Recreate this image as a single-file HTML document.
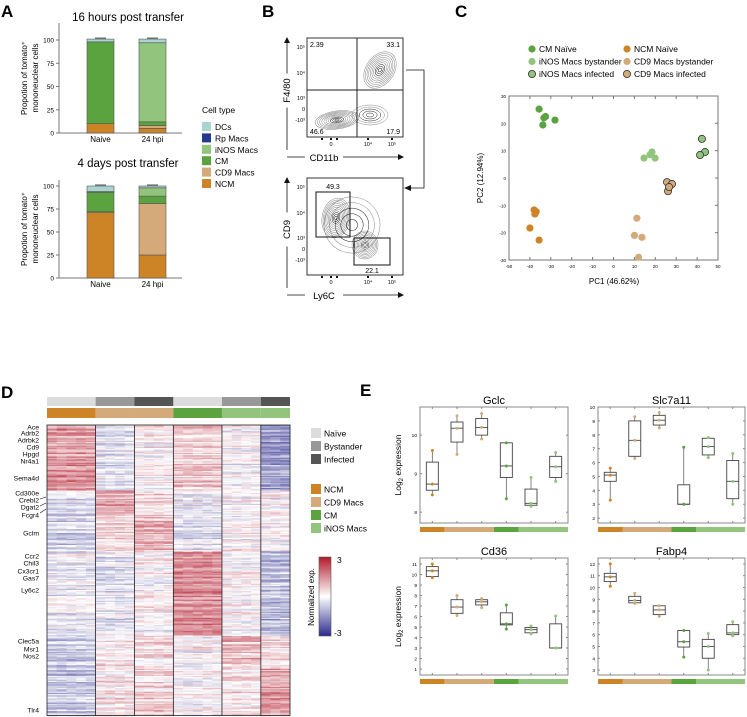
<!DOCTYPE html>
<html><head><meta charset="utf-8"><style>
body{margin:0;background:#fff}
svg{display:block;font-family:"Liberation Sans",Arial,sans-serif}
</style></head><body>
<svg id="fig" width="747" height="717" viewBox="0 0 747 717" xmlns="http://www.w3.org/2000/svg">
<g font-weight="bold" font-size="17" fill="#000">
<text x="1" y="17">A</text>
<text x="262" y="17">B</text>
<text x="455" y="17">C</text>
<text x="1" y="398">D</text>
<text x="360" y="396">E</text>
</g>
<g id="A"></g><g id="B"></g><g id="C"></g><g id="D"></g><g id="E"></g>
</svg>
<script>
// ---------- Panel A data ----------
const aCategories = ["Naive", "24 hpi"];
const aCellTypes = ["NCM", "CD9 Macs", "CM", "iNOS Macs", "Rp Macs", "DCs"];
const aTop16h = [[10, 0, 88, 0, 0, 3], [5, 3, 4, 85, 0, 4]];
const aBottom4d = [[71, 1, 21, 1, 0, 6], [25, 56, 8, 9, 0, 2]];
const aTicks = [0, 25, 50, 75, 100];
const aLegendOrder = ["DCs", "Rp Macs", "iNOS Macs", "CM", "CD9 Macs", "NCM"];
// ---------- Panel C data ----------
const cGroups = ["CM Naïve", "iNOS Macs bystander", "iNOS Macs infected", "NCM Naïve", "CD9 Macs bystander", "CD9 Macs infected"];
const cPC1 = [[-35.6, -33.3, -33.8, -28, -32.5], [14.6, 18.4, 19.9, 17.5], [42.3, 43.8, 41.4], [-38, -37.6, -40, -35.6, -37], [11.2, 10, 13.6, 12], [25.6, 28, 26.1, 26.6]];
const cPC2 = [[25.2, 22, 19.4, 21.2, 22.5], [7.3, 9.5, 7.3, 8.5], [14.3, 9.5, 8.4], [-11.7, -13.2, -18.3, -22.7, -12.3], [-14.7, -21, -21.7, -29], [-1.5, -2.2, -4.8, -3.3]];
const cXTicks = [-50, -40, -30, -20, -10, 0, 10, 20, 30, 40, 50];
const cYTicks = [-30, -20, -10, 0, 10, 20, 30];
// ---------- Panel D data ----------
const dColGroups = ["NCM Naive", "CD9 Bystander", "CD9 Infected", "CM Naive", "iNOS Bystander", "iNOS Infected"];
const dColCounts = [5, 4, 4, 5, 4, 3];
const dRowCounts = [54, 24, 26, 70, 24, 42];
const dBlockMeans = [
 [1.3, -0.3, 0.1, 0.6, -0.1, -1.3],
 [-0.4, 1.0, 0.5, -0.2, 0.0, 0.1],
 [-0.6, 0.4, 1.1, -0.3, 0.0, 0.1],
 [-0.2, -0.4, 0.1, 1.5, 0.1, -0.9],
 [-0.8, 0.1, 0.4, 0.0, 0.9, 0.5],
 [-0.8, 0.3, 0.5, 0.1, 0.4, 1.2]];
const dGenes = ["Ace","Adrb2","Adrbk2","Cd9","Hpgd","Nr4a1","Sema4d","Cd300e","Crebl2","Dgat2","Fcgr4","Gclm","Ccr2","Chil3","Cx3cr1","Gas7","Ly6c2","Clec5a","Msr1","Nos2","Tlr4"];
const dGeneY = [427,433,440,447,454,461,478,493,500,507,515,533,556,563,571,578,590,641,649,656,710];
// ---------- Panel E data ----------
const eGenes = ["Gclc", "Slc7a11", "Cd36", "Fabp4"];
const eGroupOrder = ["NCM", "CD9 byst", "CD9 inf", "CM", "iNOS byst", "iNOS inf"];
const eGclc = [[8.45,8.57,8.73,9.3,9.6],[9.5,9.82,10.18,10.34,10.5],[9.9,10.0,10.2,10.43,10.56],[8.35,8.9,9.2,9.8,9.8],[8.15,8.18,8.23,8.6,8.9],[8.8,8.9,9.18,9.45,9.55]];
const eSlc7a11 = [[3.3,4.65,5.1,5.3,5.6],[6.3,6.45,7.6,9.0,9.3],[8.5,8.7,9.05,9.4,9.6],[3.0,3.0,3.0,4.4,7.1],[6.35,6.55,7.15,7.75,7.8],[3.0,3.4,4.65,6.15,6.65]];
const eCd36 = [[9.7,9.8,10.35,10.75,11],[6.1,6.3,6.9,7.6,8.0],[6.85,7.1,7.4,7.6,7.7],[4.8,5.2,5.3,6.35,7.1],[4.35,4.45,4.75,4.95,5.1],[3.0,3.0,3.0,5.3,6.05]];
const eFabp4 = [[10.1,10.5,10.9,11.2,12],[8.65,8.7,8.9,9.25,9.5],[7.55,7.7,8.1,8.45,8.45],[4.1,4.95,5.4,6.35,6.35],[3.0,4.0,5.0,5.6,6.1],[5.9,6.0,6.15,6.85,7.1]];
const eYTicksGclc = [8, 9, 10];
const eYTicksSlc = [2,3,4,5,6,7,8,9,10];
const eYTicksCd36 = [1,2,3,4,5,6,7,8,9,10,11];
const eYTicksFabp4 = [3,4,5,6,7,8,9,10,11,12];

const NS = "http://www.w3.org/2000/svg";
function mk(parent, tag, attrs, text) {
  const e = document.createElementNS(NS, tag);
  for (const k in attrs) e.setAttribute(k, attrs[k]);
  if (text !== undefined) e.textContent = text;
  parent.appendChild(e);
  return e;
}
const COL = {"NCM":"#cc8427","CD9 Macs":"#d4aa7a","CM":"#5aa33e","iNOS Macs":"#93c47d","Rp Macs":"#233a8f","DCs":"#a9d4d2"};

// ---------- Panel A ----------
const A = document.getElementById("A");
function stacked(data, title, top, zeroY, hundredY, titleY) {
  const g = mk(A, "g", {});
  
  
  const y = v => zeroY - (zeroY - hundredY) * v / 100;
  const t = mk(g, "text", {x: 128, y: titleY, "font-size": 11.5, "text-anchor": "middle"}, title);
  
  
  mk(g, "line", {x1: 59, y1: top, x2: 59, y2: zeroY, stroke: "#777", "stroke-width": 1});
  mk(g, "line", {x1: 59, y1: zeroY, x2: 182, y2: zeroY, stroke: "#777", "stroke-width": 1});
  aTicks.forEach(v => {
    mk(g, "line", {x1: 56, y1: y(v), x2: 59, y2: y(v), stroke: "#777"});
    const tl = mk(g, "text", {x: 54, y: y(v) + 2.5, "font-size": 6.5, "text-anchor": "end"}, v);
    
    
  });
  const xs = [87, 139];
  data.forEach((vals, i) => {
    let acc = 0;
    vals.forEach((v, j) => {
      if (v <= 0) { return; }
      const r = mk(g, "rect", {x: xs[i], y: y(acc + v), width: 27, height: y(acc) - y(acc + v), fill: COL[aCellTypes[j]], stroke: "#555", "stroke-width": 0.6});
      
      
      acc += v;
      mk(g, "line", {x1: xs[i] + 8, x2: xs[i] + 19, y1: y(acc) - 1, y2: y(acc) - 1, stroke: "#222", "stroke-width": 0.8});
    });
    const xl = mk(g, "text", {x: xs[i] + 13.5, y: zeroY + 9, "font-size": 8, "text-anchor": "middle"}, aCategories[i]);
    
    
  });
  const yl = mk(g, "text", {transform: `translate(27,${(top + zeroY) / 2}) rotate(-90)`, "font-size": 8, "text-anchor": "middle"});
  
  
  mk(yl, "tspan", {x: 0, dy: 0}, "Propotion of tomato\u207A");
  mk(yl, "tspan", {x: 0, dy: 11}, "mononeuclear cells");
}
stacked(aTop16h, "16 hours post transfer", 23, 133, 40, 21);
stacked(aBottom4d, "4 days post transfer", 180, 278, 186, 167);
{
  const lg = mk(A, "g", {});
  
  
  mk(lg, "text", {x: 202, y: 113, "font-size": 8.5}, "Cell type");
  aLegendOrder.forEach((n, i) => {
    const yy = 122 + i * 11.4;
    const sw = mk(lg, "rect", {x: 202, y: yy, width: 9, height: 9, fill: COL[n]});
    
    
    const tx = mk(lg, "text", {x: 215, y: yy + 8, "font-size": 8.5}, n);
    
    
  });
}

// ---------- Panel B ----------
const B = document.getElementById("B");
function facs(box, quads, contours, gates, yName, xName) {
  const g = mk(B, "g", {});
  
  
  const [x0, y0, x1, y1] = box;
  contours.forEach(c => {
    for (let k = 0; k < c[4]; k++) {
      const f = 1 - k / c[4];
      mk(g, "ellipse", {cx: c[0], cy: c[1], rx: c[2] * f, ry: c[3] * f, fill: "none", stroke: k > c[4] - 4 ? "#222" : "#888", "stroke-width": 0.5, transform: `rotate(${c[5]} ${c[0]} ${c[1]})`});
    }
  });
  mk(g, "rect", {x: x0, y: y0, width: x1 - x0, height: y1 - y0, fill: "none", stroke: "#333", "stroke-width": 1});
  quads.forEach(q => mk(g, "line", {x1: q[0], y1: q[1], x2: q[2], y2: q[3], stroke: "#222", "stroke-width": 1}));
  gates.forEach(q => mk(g, "rect", {x: q[0], y: q[1], width: q[2], height: q[3], fill: "none", stroke: "#111", "stroke-width": 1}));
  mk(g, "path", {d: `M287 ${y1 + 13} L287 ${y0} M287 ${y1 + 20} L400 ${y1 + 20}`, stroke: "#111", fill: "none", "stroke-width": 0.8});
  mk(g, "path", {d: `M284 ${y0 + 5} L287 ${y0 - 1} L290 ${y0 + 5}Z M398 ${y1 + 17} L404 ${y1 + 20} L398 ${y1 + 23}Z`, fill: "#111"});
  mk(g, "rect", {x: 281, y: (y0 + y1) / 2 - 14, width: 11, height: 34, fill: "#fff"});
  const yl2 = mk(g, "text", {transform: `translate(290,${(y0 + y1) / 2 + 3}) rotate(-90)`, "font-size": 9.5, "text-anchor": "middle"}, yName);
  
  
  mk(g, "rect", {x: 305, y: y1 + 14, width: 38, height: 12, fill: "#fff"});
  const xl = mk(g, "text", {x: 324, y: y1 + 24, "font-size": 9.5, "text-anchor": "middle"}, xName);
  
  
  const tk = [["10\u2075", y0 + 9], ["10\u2074", y0 + 35], ["10\u00B3", y0 + 60], ["0", y0 + 71], ["-10\u00B3", y0 + 82]];
  tk.forEach(t => mk(g, "text", {x: 305, y: t[1] + 2, "font-size": 5.5, "text-anchor": "end"}, t[0]));
  [["0", 331], ["10\u2074", 368], ["10\u2075", 392]].forEach(t => mk(g, "text", {x: t[1], y: y1 + 9, "font-size": 5.5, "text-anchor": "middle"}, t[0]));
  [322, 331, 337, 368, 392].forEach(x => mk(g, "rect", {x: x - 1, y: y1 + 1, width: 2, height: 2, fill: "#111"}));
  return g;
}
const bt = facs([307, 38, 403, 137], [[357, 38, 357, 137], [307, 90, 403, 90]],
  [[337, 120, 22, 9, 10, -8], [380, 70, 14, 20, 10, 35], [370, 115, 18, 10, 5, 0]], [], "F4/80", "CD11b");
[["2.39", 310, 47, "start"], ["33.1", 400, 47, "end"], ["46.6", 310, 134, "start"], ["17.9", 400, 134, "end"]].forEach(t => {
  const e = mk(bt, "text", {x: t[1], y: t[2], "font-size": 7, "text-anchor": t[3]}, t[0]);
  
  
});
const bb = facs([307, 178, 403, 275], [],
  [[336, 218, 14, 20, 11, 10], [365, 245, 13, 14, 10, 0], [352, 225, 28, 28, 5, 20]],
  [[316, 192, 34, 45], [354, 238, 36, 27]], "CD9", "Ly6C");
[["49.3", 333, 189], ["22.1", 372, 273]].forEach(t => {
  const e = mk(bb, "text", {x: t[1], y: t[2], "font-size": 7, "text-anchor": "middle"}, t[0]);
  
  
});
mk(B, "path", {d: "M406 70 L424 70 L424 188 L410 188", fill: "none", stroke: "#111", "stroke-width": 0.8});
mk(B, "path", {d: "M404 188 L411 185 L411 191Z", fill: "#111"});

// ---------- Panel C ----------
const C = document.getElementById("C");
const cx = v => 509 + (v + 50) * (718 - 509) / 100;
const cy = v => 96 + (30 - v) * (260 - 96) / 60;
const cFill = ["#5aa33e", "#93c47d", "#93c47d", "#cc8427", "#d4aa7a", "#d4aa7a"];
const cStroke = ["none", "none", "#333", "none", "none", "#333"];
{
  const g = mk(C, "g", {});
  
  
  mk(g, "rect", {x: 509, y: 96, width: 209, height: 164, fill: "none", stroke: "#777", "stroke-width": 1});
  cXTicks.forEach(v => {
    mk(g, "line", {x1: cx(v), x2: cx(v), y1: 96, y2: 99, stroke: "#777"});
    mk(g, "line", {x1: cx(v), x2: cx(v), y1: 257, y2: 260, stroke: "#777"});
    const t = mk(g, "text", {x: cx(v), y: 268, "font-size": 4.5, "text-anchor": "middle"}, v);
    
    
  });
  cYTicks.forEach(v => {
    mk(g, "line", {x1: 715, x2: 718, y1: cy(v), y2: cy(v), stroke: "#777"});
    const t = mk(g, "text", {x: 506, y: cy(v) + 2, "font-size": 4.5, "text-anchor": "end"}, v);
    
    
  });
  const xt = mk(g, "text", {x: 614, y: 284, "font-size": 8, "text-anchor": "middle"}, "PC1 (46.62%)");
  
  
  const yt = mk(g, "text", {transform: "translate(483,178) rotate(-90)", "font-size": 8, "text-anchor": "middle"}, "PC2 (12.94%)");
  
  
  cPC1.forEach((xs, gi) => xs.forEach((v, k) => {
    const p = mk(g, "circle", {cx: cx(v), cy: cy(cPC2[gi][k]), r: 3.6, fill: cFill[gi], stroke: cStroke[gi], "stroke-width": 0.8});
    
    
  }));
  cGroups.forEach((n, i) => {
    const col = i < 3 ? 0 : 1;
    const row = i % 3;
    const lx = col ? 627 : 532, ly = 52 + row * 12.5;
    const e = mk(g, "g", {});
    
    
    mk(e, "circle", {cx: lx, cy: ly - 3, r: 3.6, fill: cFill[i], stroke: cStroke[i], "stroke-width": 0.8});
    mk(e, "text", {x: lx + 7, y: ly, "font-size": 8.5}, n);
  });
}

// ---------- Panel D ----------
const D = document.getElementById("D");
{
  const hx0 = 47, hx1 = 290, hy0 = 425, hy1 = 716;
  const nCols = dColCounts.reduce((a, b) => a + b, 0);
  const nRows = dRowCounts.reduce((a, b) => a + b, 0);
  const cw = (hx1 - hx0) / nCols, rh = (hy1 - hy0) / nRows;
  function color(v) {
    v = Math.max(-3, Math.min(3, v)) / 3;
    const w = [255, 255, 255], r = [178, 24, 43], b = [43, 42, 140];
    const t = Math.abs(v), e = v > 0 ? r : b;
    return `rgb(${w.map((c, i) => Math.round(c + (e[i] - c) * t)).join(",")})`;
  }
  function hash(a, b) { let h = (a * 374761393 + b * 668265263) | 0; h = (h ^ (h >>> 13)) * 1274126177 | 0; return ((h ^ (h >>> 16)) >>> 0) / 4294967295; }
  const g = mk(D, "g", {});
  
  
  let row = 0;
  dRowCounts.forEach((rc, rg) => {
    for (let r = 0; r < rc; r++, row++) {
      let col = 0;
      dColCounts.forEach((cc, cg) => {
        const rowOff = (hash(row, cg + 50) - 0.5) * 1.4;
        for (let c = 0; c < cc; c++, col++) {
          const v = dBlockMeans[rg][cg] + rowOff + (hash(row, col) - 0.5) * 0.7;
          const cell = mk(g, "rect", {x: hx0 + col * cw, y: hy0 + row * rh, width: cw + 0.3, height: rh + 0.2, fill: color(v)});
          
          
        }
      });
    }
  });
  const grays = ["#dcdcdc", "#989898", "#555", "#dcdcdc", "#989898", "#555"];
  const types = ["#cc8427", "#d4aa7a", "#d4aa7a", "#5aa33e", "#93c47d", "#93c47d"];
  let col = 0;
  dColCounts.forEach((cc, i) => {
    const x = hx0 + col * cw;
    const a = mk(g, "rect", {x: x, y: 397, width: cc * cw, height: 9, fill: grays[i]});
    
    
    const b = mk(g, "rect", {x: x, y: 408, width: cc * cw, height: 10, fill: types[i]});
    
    
    if (col > 0) mk(g, "line", {x1: x, x2: x, y1: hy0, y2: hy1, stroke: "#222", "stroke-width": 0.8});
    col += cc;
  });
  mk(g, "rect", {x: hx0, y: hy0, width: hx1 - hx0, height: hy1 - hy0 - 0.5, fill: "none", stroke: "#222", "stroke-width": 0.8});
  dGenes.forEach((n, i) => {
    const t = mk(g, "text", {x: 39, y: dGeneY[i] + 2.5, "font-size": 6.8, "text-anchor": "end"}, n);
    
    
  });
  mk(g, "path", {d: "M40 499 L46 497 M40 506 L46 503 M40 513 L46 509", stroke: "#111", "stroke-width": 0.6});
  const lg = mk(D, "g", {});
  
  
  [["Naïve", "#dcdcdc", 428], ["Bystander", "#989898", 441], ["Infected", "#555", 454], ["NCM", "#cc8427", 484], ["CD9 Macs", "#d4aa7a", 497], ["CM", "#5aa33e", 510], ["iNOS Macs", "#93c47d", 523]].forEach(e => {
    const s = mk(lg, "rect", {x: 311, y: e[2], width: 10, height: 10, fill: e[1]});
    
    
    const t = mk(lg, "text", {x: 324, y: e[2] + 8.5, "font-size": 8.5}, e[0]);
    
    
  });
  const defs = mk(lg, "defs", {});
  const grad = mk(defs, "linearGradient", {id: "cb", x1: 0, y1: 0, x2: 0, y2: 1});
  mk(grad, "stop", {offset: "0", "stop-color": "#b2182b"});
  mk(grad, "stop", {offset: "0.5", "stop-color": "#ffffff"});
  mk(grad, "stop", {offset: "1", "stop-color": "#2b2a8c"});
  const cb = mk(lg, "rect", {x: 319, y: 557, width: 12, height: 79, fill: "url(#cb)", stroke: "#555", "stroke-width": 0.6});
  
  
  mk(lg, "text", {x: 337, y: 563, "font-size": 8.5}, "3");
  mk(lg, "text", {x: 334, y: 636, "font-size": 8.5}, "-3");
  const ct = mk(lg, "text", {transform: "translate(314,597) rotate(-90)", "font-size": 8, "text-anchor": "middle"}, "Normalized exp.");
  
  
}

// ---------- Panel E ----------
const E = document.getElementById("E");
const eCols = ["#cc8427", "#d4aa7a", "#d4aa7a", "#5aa33e", "#93c47d", "#93c47d"];
function boxplot(title, data, ticks, box, yMax, yMin, showYLabel) {
  const [x0, y0, x1, y1] = box;
  const g = mk(E, "g", {});
  
  
  const y = v => y0 + (yMax - v) * (y1 - y0) / (yMax - yMin);
  mk(g, "rect", {x: x0, y: y0, width: x1 - x0, height: y1 - y0, fill: "none", stroke: "#888", "stroke-width": 1});
  const tt = mk(g, "text", {x: (x0 + x1) / 2, y: y0 - 3, "font-size": 11, "text-anchor": "middle"}, title);
  
  
  ticks.forEach(v => {
    mk(g, "line", {x1: x0, x2: x0 + 2, y1: y(v), y2: y(v), stroke: "#888"});
    mk(g, "line", {x1: x1 - 2, x2: x1, y1: y(v), y2: y(v), stroke: "#888"});
    const t = mk(g, "text", {x: x0 - 3, y: y(v) + 2, "font-size": 4.8, "text-anchor": "end"}, v);
    
    
  });
  const step = (x1 - x0) / 6;
  data.forEach((d, i) => {
    const xc = x0 + step * (i + 0.5);
    mk(g, "line", {x1: xc, x2: xc, y1: y1, y2: y1 - 2, stroke: "#888"});
    mk(g, "line", {x1: xc, x2: xc, y1: y0, y2: y0 + 2, stroke: "#888"});
    const [mn, q1, md, q3, mx] = d;
    mk(g, "line", {x1: xc, x2: xc, y1: y(mx), y2: y(q3), stroke: "#666", "stroke-width": 0.8});
    mk(g, "line", {x1: xc, x2: xc, y1: y(q1), y2: y(mn), stroke: "#666", "stroke-width": 0.8});
    const b = mk(g, "rect", {x: xc - 6, y: y(q3), width: 12, height: Math.max(0.5, y(q1) - y(q3)), fill: "none", stroke: "#444", "stroke-width": 0.9});
    
    
    mk(g, "line", {x1: xc - 6, x2: xc + 6, y1: y(md), y2: y(md), stroke: "#444", "stroke-width": 0.9});
    [mn, md, mx].forEach(v => mk(g, "circle", {cx: xc, cy: y(v), r: 1.5, fill: eCols[i]}));
  });
  const segs = [[0, 1], [1, 3], [3, 4], [4, 6]];
  const sc = ["#cc8427", "#d4aa7a", "#5aa33e", "#93c47d"];
  segs.forEach((s, i) => {
    const r = mk(g, "rect", {x: x0 + step * s[0], y: y1 + 4, width: step * (s[1] - s[0]), height: 5, fill: sc[i]});
    
    
  });
  if (showYLabel) {
    const yl = mk(g, "text", {transform: `translate(401,${(y0 + y1) / 2}) rotate(-90)`, "font-size": 8.5, "text-anchor": "middle"});
    
    
    yl.innerHTML = 'Log<tspan font-size="6" dy="2">2</tspan><tspan dy="-2"> expression</tspan>';
  }
}
boxplot("Gclc", eGclc, eYTicksGclc, [420, 407, 568, 523], 10.73, 7.72, true);
boxplot("Slc7a11", eSlc7a11, eYTicksSlc, [598, 407, 745, 523], 10.0, 1.65, false);
boxplot("Cd36", eCd36, eYTicksCd36, [420, 558, 568, 675], 11.57, 0.43, true);
boxplot("Fabp4", eFabp4, eYTicksFabp4, [598, 558, 745, 675], 12.5, 2.58, false);
</script>
</body></html>
